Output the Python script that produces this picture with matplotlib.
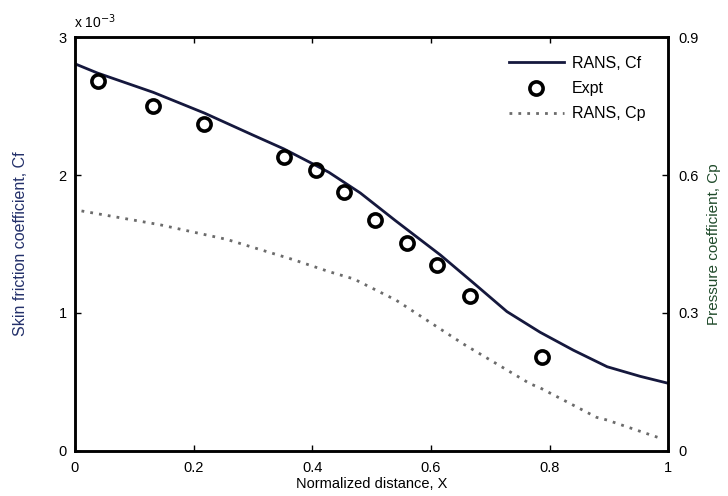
import matplotlib
matplotlib.use("Agg")
import matplotlib.pyplot as plt

plt.rcParams.update({
    "font.family": ["Liberation Sans", "DejaVu Sans"],
    "font.size": 10.5,
    "axes.linewidth": 1.8,
})

# --- data ---
x_cf = [0.0, 0.038, 0.132, 0.218, 0.30, 0.352, 0.406, 0.428, 0.481, 0.54,
        0.616, 0.671, 0.728, 0.784, 0.84, 0.897, 0.953, 1.0]
cf_rans = [2.807, 2.74, 2.60, 2.45, 2.29, 2.19, 2.07, 2.02, 1.87, 1.67,
           1.42, 1.22, 1.01, 0.86, 0.73, 0.61, 0.54, 0.49]  # x 1e-3

x_expt = [0.038, 0.132, 0.218, 0.352, 0.406, 0.453, 0.505, 0.559, 0.61, 0.666, 0.787]
cf_expt = [2.68, 2.50, 2.37, 2.13, 2.04, 1.88, 1.675, 1.51, 1.347, 1.12, 0.68]

x_cp = [0.011, 0.143, 0.256, 0.368, 0.428, 0.47, 0.541, 0.654, 0.767, 0.784,
        0.879, 0.897, 0.99]
cp_rans = [0.522, 0.492, 0.46, 0.416, 0.39, 0.374, 0.328, 0.233, 0.146, 0.137,
           0.073, 0.067, 0.026]

cf_ticks = [0, 1, 2, 3]
cp_ticks = [0, 0.3, 0.6, 0.9]
x_ticks = [0, 0.2, 0.4, 0.6, 0.8, 1]

navy = "#15183d"
left_lab = "#23306a"
right_lab = "#1f4a2a"

fig = plt.figure(figsize=(7.28, 4.96), dpi=100)
ax = fig.add_axes([0.103, 0.091, 0.815, 0.834])
ax2 = ax.twinx()

l1, = ax.plot(x_cf, cf_rans, color=navy, lw=2.0, label="RANS, Cf")
m1, = ax.plot(x_expt, cf_expt, linestyle="None", marker="o", markersize=9.5,
              markerfacecolor="none", markeredgecolor="black", markeredgewidth=2.6,
              label="Expt")
l2, = ax2.plot(x_cp, cp_rans, color="#6b6b6b", lw=2.0, linestyle=(0, (1, 2.2)),
               label="RANS, Cp")

ax.set_xlim(0, 1)
ax.set_ylim(0, 3)
ax2.set_ylim(0, 0.9)
ax.set_xticks(x_ticks)
ax.set_xticklabels(["0", "0.2", "0.4", "0.6", "0.8", "1"])
ax.set_yticks(cf_ticks)
ax.set_yticklabels([str(t) for t in cf_ticks])
ax2.set_yticks(cp_ticks)
ax2.set_yticklabels(["0", "0.3", "0.6", "0.9"])

ax.tick_params(axis="x", direction="in", length=4, width=1, top=True, pad=7)
ax.tick_params(axis="y", direction="in", length=4, width=1, right=False, pad=6)
ax2.tick_params(direction="in", length=4, width=1, pad=7)

ax.set_xlabel("Normalized distance, X", fontsize=10.5, labelpad=2)
ax.set_ylabel("Skin friction coefficient, Cf", fontsize=11.5, color=left_lab, labelpad=22)
ax2.set_ylabel("Pressure coefficient, Cp", fontsize=11, color=right_lab, labelpad=6)

ax.text(-0.002, 1.015, r"x 10$^{-3}$", transform=ax.transAxes, fontsize=10,
        ha="left", va="bottom")

ax.legend(handles=[l1, m1, l2], loc="upper right", bbox_to_anchor=(0.985, 0.99),
          frameon=False, fontsize=11.5, handlelength=3.4, handletextpad=0.5,
          labelspacing=0.65)

fig.savefig("out.png", dpi=100)
